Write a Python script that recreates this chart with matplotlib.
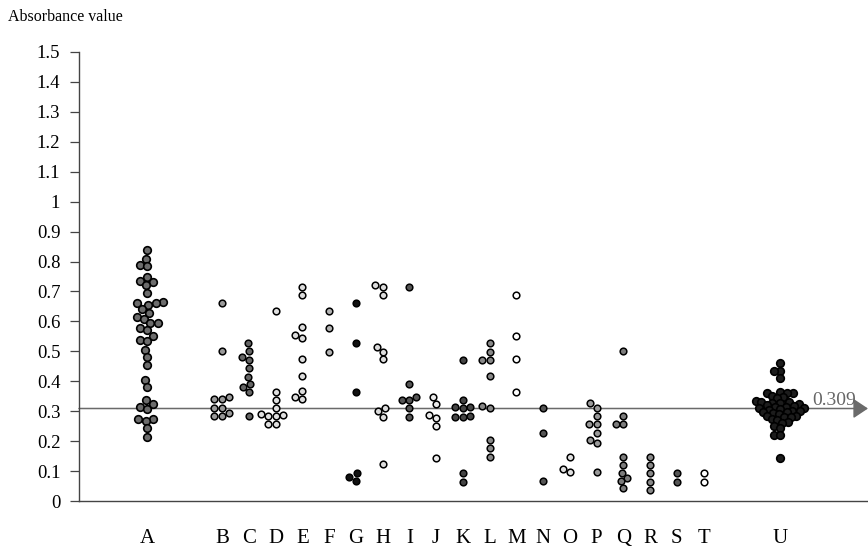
import numpy as np
import matplotlib
matplotlib.use("Agg")
import matplotlib.pyplot as plt

plt.rcParams['font.family'] = ['Liberation Serif', 'DejaVu Serif']

# ---------------- data ----------------
categories = list("ABCDEFGHIJKLMNOPQRSTU")

vals_A = [0.84, 0.81, 0.79, 0.785, 0.75, 0.735, 0.73, 0.72, 0.695, 0.665, 0.66, 0.66,
          0.655, 0.64, 0.627, 0.614, 0.607, 0.594, 0.594, 0.577, 0.571, 0.551, 0.538,
          0.536, 0.504, 0.48, 0.454, 0.404, 0.38, 0.337, 0.324, 0.313, 0.306, 0.273,
          0.273, 0.268, 0.243, 0.213]
vals_B = [0.66, 0.50, 0.346, 0.34, 0.34, 0.31, 0.31, 0.293, 0.284, 0.284]
vals_C = [0.527, 0.502, 0.48, 0.471, 0.443, 0.415, 0.391, 0.382, 0.365, 0.284]
vals_D = [0.635, 0.365, 0.338, 0.31, 0.286, 0.284, 0.284, 0.289, 0.256, 0.256]
vals_E = [0.716, 0.688, 0.582, 0.555, 0.544, 0.473, 0.418, 0.369, 0.346, 0.34]
vals_F = [0.635, 0.579, 0.499]
vals_G = [0.66, 0.527, 0.365, 0.093, 0.081, 0.068]
vals_H = [0.722, 0.716, 0.688, 0.516, 0.499, 0.473, 0.31, 0.302, 0.282, 0.123]
vals_I = [0.714, 0.391, 0.346, 0.337, 0.337, 0.31, 0.282]
vals_J = [0.346, 0.323, 0.287, 0.278, 0.252, 0.145]
vals_K = [0.471, 0.337, 0.315, 0.31, 0.313, 0.284, 0.282, 0.282, 0.093, 0.065]
vals_L = [0.527, 0.499, 0.471, 0.471, 0.418, 0.318, 0.31, 0.204, 0.176, 0.148]
vals_M = [0.688, 0.551, 0.473, 0.365]
vals_N = [0.31, 0.228, 0.067]
vals_O = [0.148, 0.106, 0.096]
vals_P = [0.326, 0.312, 0.284, 0.256, 0.256, 0.228, 0.204, 0.193, 0.098]
vals_Q = [0.50, 0.283, 0.256, 0.256, 0.148, 0.121, 0.094, 0.078, 0.066, 0.042]
vals_R = [0.148, 0.12, 0.093, 0.065, 0.038]
vals_S = [0.093, 0.065]
vals_T = [0.095, 0.065]
vals_U = [0.46, 0.435, 0.435, 0.41, 0.365, 0.362, 0.36, 0.36, 0.35, 0.348, 0.345,
          0.335, 0.33, 0.33, 0.329, 0.328, 0.325, 0.322, 0.318, 0.315, 0.313, 0.31,
          0.31, 0.308, 0.305, 0.30, 0.30, 0.298, 0.296, 0.294, 0.29, 0.285, 0.283,
          0.28, 0.28, 0.275, 0.27, 0.265, 0.262, 0.25, 0.245, 0.222, 0.22, 0.143]

groups = [vals_A, vals_B, vals_C, vals_D, vals_E, vals_F, vals_G, vals_H, vals_I,
          vals_J, vals_K, vals_L, vals_M, vals_N, vals_O, vals_P, vals_Q, vals_R,
          vals_S, vals_T, vals_U]

reference_value = 0.309
reference_label = "0.309"
y_ticks = [round(0.1 * i, 1) for i in range(16)]
y_title = "Absorbance value"

# ---------------- styles ----------------
fills = ['#6c6c6c', '#9a9a9a', '#666666', '#e0e0e0', '#dcdcdc', '#b4b4b4', '#111111',
         '#dcdcdc', '#555555', '#ebebeb', '#444444', '#888888', '#ffffff', '#555555',
         '#e0e0e0', '#999999', '#7c7c7c', '#888888', '#555555', '#ffffff', '#1c1c1c']
# (marker area, edge width, swarm spacing in px)
style_big_A = (30, 1.2, 7.6)
style_big_U = (30, 1.2, 5.6)
style_small = (23, 1.1, 7.6)

# category positions (layout)
pos = [2.55] + [5.35 + i for i in range(19)] + [26.2]

W, H = 868, 547
fig = plt.figure(figsize=(W / 100, H / 100), dpi=100)
ax_left, ax_bottom, ax_w, ax_h = 79, 46, 789, 449
ax = fig.add_axes([ax_left / W, ax_bottom / H, ax_w / W, ax_h / H])
XMAX, YMAX = 29.5, 1.5
ax.set_xlim(0, XMAX)
ax.set_ylim(0, YMAX)
px_x = ax_w / XMAX
px_y = ax_h / YMAX


def swarm(values, d):
    """simple beeswarm in pixel space; returns x offsets in pixels"""
    ys = np.asarray(values, dtype=float) * px_y
    order = np.argsort(ys)
    placed_x, placed_y = [], []
    offs = np.zeros(len(ys))
    for i in order:
        y = ys[i]
        cands = [0.0]
        for xj, yj in zip(placed_x, placed_y):
            dy = abs(y - yj)
            if dy < d:
                dx = np.sqrt(d * d - dy * dy)
                cands += [xj + dx + 1e-6, xj - dx - 1e-6]
        cands.sort(key=lambda c: (abs(c), c))
        for c in cands:
            ok = True
            for xj, yj in zip(placed_x, placed_y):
                if (c - xj) ** 2 + (y - yj) ** 2 < d * d - 1e-6:
                    ok = False
                    break
            if ok:
                offs[i] = c
                placed_x.append(c)
                placed_y.append(y)
                break
    return offs


# reference line with arrow
ax.annotate('', xy=(1.0, reference_value), xytext=(0.0, reference_value),
            xycoords=('axes fraction', 'data'), textcoords=('axes fraction', 'data'),
            arrowprops=dict(arrowstyle='-|>,head_length=0.45,head_width=0.3',
                            color='#6a6a6a', lw=1.1, shrinkA=0, shrinkB=0,
                            mutation_scale=20), zorder=1, annotation_clip=False)
ax.annotate(reference_label, xy=(0.929, reference_value),
            xycoords=('axes fraction', 'data'), xytext=(0, 2.5),
            textcoords='offset points', ha='left', va='baseline',
            fontsize=14, color='#666666')

for k, vals in enumerate(groups):
    if k == 0:
        s, lw, d = style_big_A
    elif k == len(groups) - 1:
        s, lw, d = style_big_U
    else:
        s, lw, d = style_small
    offs = swarm(vals, d)
    xs = pos[k] + offs / px_x
    ax.scatter(xs, vals, s=s, c=fills[k], edgecolors='#000000', linewidths=lw,
               zorder=3, clip_on=False)

# axes styling
for sp in ['top', 'right']:
    ax.spines[sp].set_visible(False)
for sp in ['left', 'bottom']:
    ax.spines[sp].set_color('#444444')
    ax.spines[sp].set_linewidth(1.0)

ax.set_yticks(y_ticks)
ax.set_yticklabels([f'{v:g}' for v in y_ticks])
ax.tick_params(axis='y', direction='out', length=6.5, width=0.9, color='#444444',
               pad=7, labelsize=13.5)
ax.set_xticks(pos)
ax.set_xticklabels(categories)
ax.tick_params(axis='x', length=0, pad=20, labelsize=15)

fig.text(8 / W, 1 - 17 / H, y_title, ha='left', va='center', fontsize=11.5)

fig.savefig('out.png', dpi=100)
